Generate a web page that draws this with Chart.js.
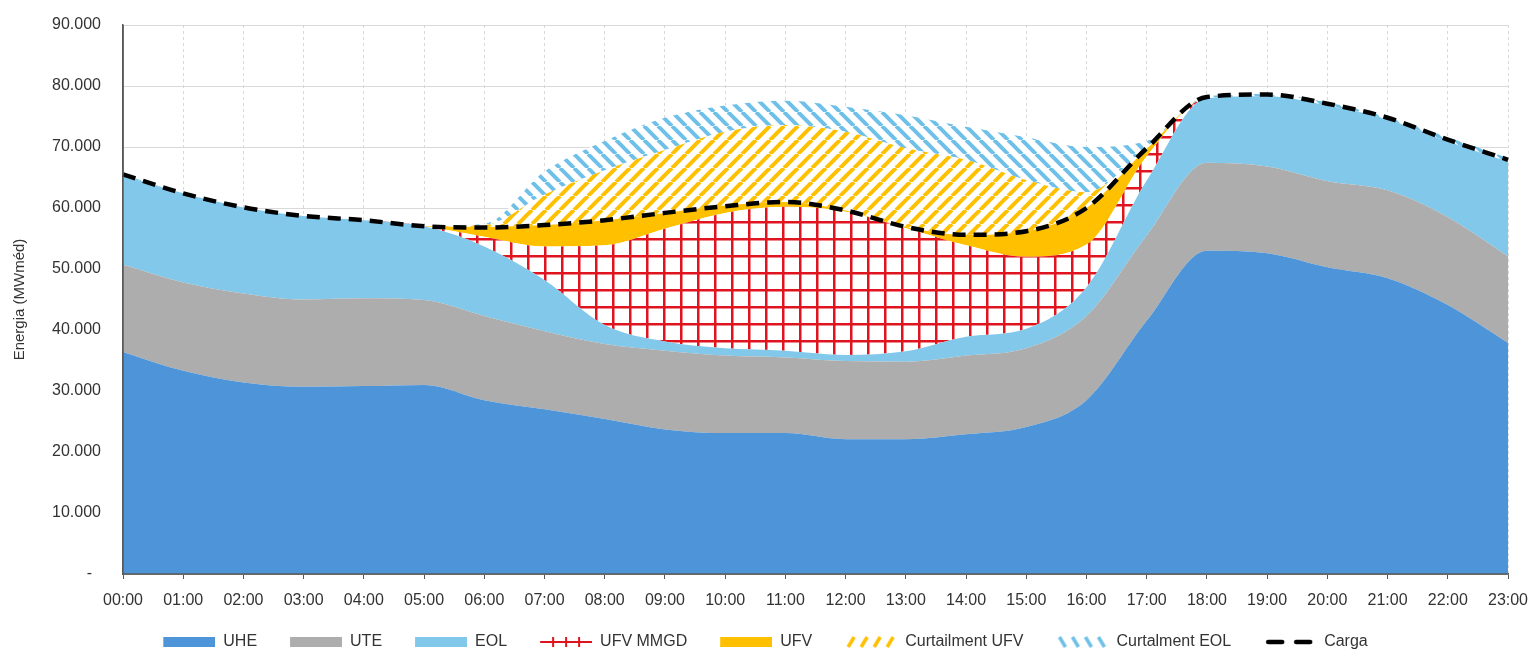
<!DOCTYPE html>
<html lang="pt-BR">
<head>
<meta charset="utf-8">
<script src="https://cdn.jsdelivr.net/npm/chart.js@4.4.1/dist/chart.umd.min.js"></script>
<style>
  html, body { margin: 0; padding: 0; background: #ffffff; overflow: hidden; }
</style>
</head>
<body>
<canvas id="energiaChart" width="1530" height="653"></canvas>
<script>
const horas = ['00:00', '01:00', '02:00', '03:00', '04:00', '05:00', '06:00', '07:00',
  '08:00', '09:00', '10:00', '11:00', '12:00', '13:00', '14:00', '15:00',
  '16:00', '17:00', '18:00', '19:00', '20:00', '21:00', '22:00', '23:00'];

// MWméd por hora
const uhe = [36400, 33300, 31400, 30700, 30800, 31000, 28500, 27000, 25400, 23700, 23100, 23100,
  22100, 22100, 22900, 24100, 28500, 41500, 53000, 52600, 50300, 48500, 44100, 37900];
const ute = [14300, 14500, 14600, 14300, 14400, 13900, 13800, 12800, 12300, 12900, 12700, 12400,
  12800, 12700, 12900, 12900, 13800, 14000, 14400, 14200, 14100, 14400, 14400, 14200];
const eol = [14600, 14600, 14100, 13700, 12800, 12100, 11400, 8400, 3100, 1500, 1200, 1100,
  1000, 1700, 3100, 3200, 4700, 9000, 10600, 11500, 12400, 11600, 12400, 15500];
const ufvMmgd = [0, 0, 0, 0, 0, 0, 1600, 5500, 13100, 18500, 22200, 23600,
  23500, 20200, 15000, 11800, 7000, 4000, 0, 0, 0, 0, 0, 0];
const ufv = [0, 0, 0, 0, 0, 0, 1600, 3500, 4100, 2600, 1200, 800,
  200, 200, 1700, 4200, 6000, 1200, 0, 0, 0, 0, 0, 0];
const curtUfv = [0, 0, 0, 0, 0, 0, 300, 5000, 8200, 10300, 12100, 12600,
  12900, 12900, 12300, 8400, 2600, 300, 0, 0, 0, 0, 0, 0];
const curtEol = [200, 0, 0, 0, 0, 0, 200, 3800, 4800, 5300, 4300, 4000,
  4100, 5400, 5400, 7000, 7400, 1000, 300, 400, 500, 500, 700, 600];
const carga = [65500, 62400, 60100, 58700, 58000, 57000, 56800, 57200, 58000, 59200, 60300, 61000,
  59600, 56900, 55600, 56200, 60000, 69800, 78200, 78600, 77100, 74800, 71200, 67900];

const corTexto = '#333333'
const corEixo = '#595959'
const azulUhe = '#4d94d8'
const cinzaUte = '#adadad'
const azulEol = '#82c8ea'
const amareloUfv = '#ffc000'
const vermelho = '#e0141e'

Chart.defaults.font.family = "'Liberation Sans', Arial, sans-serif"

function novoCanvas(w, h) {
  const c = document.createElement('canvas')
  c.width = w
  c.height = h
  return c
}

// padrões de preenchimento
function padrao(w, h, desenha) {
  const c = novoCanvas(w, h)
  const g = c.getContext('2d')
  g.fillStyle = '#ffffff'
  g.fillRect(0, 0, w, h)
  desenha(g, w, h)
  return g.createPattern(c, 'repeat')
}

const gradeVermelha = padrao(17, 17, (g, w, h) => {
  g.fillStyle = vermelho
  g.fillRect(0, 0, 2.5, h)
  g.fillRect(0, 0, w, 2.5)
})

function hachura(cor, invertida) {
  return padrao(14, 14, (g, s) => {
    g.strokeStyle = cor
    g.lineWidth = 4
    for (let k = -1; k <= 1; k++) {
      g.beginPath()
      if (invertida) {
        g.moveTo(k * s, 0)
        g.lineTo(k * s + s, s)
      } else {
        g.moveTo(k * s, s)
        g.lineTo(k * s + s, 0)
      }
      g.stroke()
    }
  })
}

const hachuraUfv = hachura(amareloUfv, false)
const hachuraEol = hachura('#6fc0e8', true)

// marcadores da legenda (margem transparente à esquerda = espaço entre itens)
const margem = 23
function marcador(desenha) {
  const c = novoCanvas(52 + margem, 14)
  const g = c.getContext('2d')
  g.translate(margem, 0)
  desenha(g)
  return c
}

const caixa = cor => marcador(g => { g.fillStyle = cor; g.fillRect(0, 2, 52, 10) })

const marcadores = [
  caixa(azulUhe),
  caixa(cinzaUte),
  caixa(azulEol),
  marcador(g => {
    g.fillStyle = vermelho
    g.fillRect(0, 6, 52, 2)
    ;[13, 26, 39].forEach(x => g.fillRect(x - 1, 2, 2, 10))
  }),
  caixa(amareloUfv),
  marcador(g => {
    g.strokeStyle = amareloUfv
    g.lineWidth = 3.5
    ;[6, 19, 32, 45].forEach(x => {
      g.beginPath(); g.moveTo(x - 3, 12); g.lineTo(x + 3, 2); g.stroke()
    })
  }),
  marcador(g => {
    g.strokeStyle = '#6fc0e8'
    g.lineWidth = 3.5
    ;[6, 19, 32, 45].forEach(x => {
      g.beginPath(); g.moveTo(x - 3, 2); g.lineTo(x + 3, 12); g.stroke()
    })
  }),
  marcador(g => {
    g.strokeStyle = '#000000'
    g.lineWidth = 4.5
    g.lineCap = 'round'
    g.beginPath(); g.moveTo(4, 7); g.lineTo(18, 7); g.stroke()
    g.beginPath(); g.moveTo(32, 7); g.lineTo(46, 7); g.stroke()
  })
]

function area(label, data, cor, preenchimento) {
  return {
    label: label,
    data: data,
    backgroundColor: cor,
    borderWidth: 0,
    pointRadius: 0,
    fill: preenchimento,
    stack: 'geracao',
    cubicInterpolationMode: 'monotone'
  }
}

// linhas dos eixos por cima das áreas
const eixos = {
  id: 'eixos',
  afterDatasetsDraw(chart) {
    const { ctx, chartArea: a } = chart
    ctx.save()
    ctx.strokeStyle = corEixo
    ctx.lineWidth = 1.5
    ctx.beginPath()
    ctx.moveTo(a.left, a.top)
    ctx.lineTo(a.left, a.bottom)
    ctx.lineTo(a.right, a.bottom)
    ctx.stroke()
    ctx.restore()
  }
}

// desce a legenda até a base da figura
const legendaBaixa = {
  id: 'legendaBaixa',
  afterLayout(chart) {
    chart.legend.top += 7
    chart.legend.bottom += 7
  }
}

const ctx = document.getElementById('energiaChart').getContext('2d')
new Chart(ctx, {
  type: 'line',
  data: {
    labels: horas,
    datasets: [
      area('UHE', uhe, azulUhe, 'origin'),
      area('UTE', ute, cinzaUte, '-1'),
      area('EOL', eol, azulEol, '-1'),
      area('UFV MMGD', ufvMmgd, gradeVermelha, '-1'),
      area('UFV', ufv, amareloUfv, '-1'),
      area('Curtailment UFV', curtUfv, hachuraUfv, '-1'),
      area('Curtalment EOL', curtEol, hachuraEol, '-1'),
      {
        label: 'Carga',
        data: carga,
        borderColor: '#000000',
        borderWidth: 4.5,
        borderDash: [13, 8],
        pointRadius: 0,
        fill: false,
        stack: 'carga',
        order: -1,
        cubicInterpolationMode: 'monotone'
      }
    ]
  },
  options: {
    responsive: false,
    animation: false,
    layout: {
      padding: { top: 25, right: 22, left: 0, bottom: 0 }
    },
    scales: {
      x: {
        offset: false,
        grid: {
          color: '#d9d9d9',
          tickColor: corEixo,
          tickLength: 5
        },
        border: {
          color: corEixo,
          width: 1.5,
          dash: [3, 3]
        },
        ticks: {
          color: corTexto,
          font: { size: 16 },
          padding: 12,
          autoSkip: false,
          maxRotation: 0
        },
        afterFit: scale => {
          scale.height = 43
          scale.paddingLeft = 0
          scale.paddingRight = 0
        }
      },
      y: {
        stacked: true,
        min: 0,
        max: 90000,
        grid: {
          color: '#d9d9d9',
          drawTicks: false
        },
        border: {
          color: corEixo,
          width: 1.5
        },
        ticks: {
          stepSize: 10000,
          color: corTexto,
          font: { size: 16 },
          padding: 22,
          callback: v => v === 0 ? '-  ' : (v / 1000) + '.000'
        },
        title: {
          display: true,
          text: 'Energia (MWméd)',
          color: corTexto,
          font: { size: 15 },
          padding: { top: 11, bottom: 0 }
        },
        afterFit: scale => {
          scale.width = 123
          scale.paddingTop = 0
          scale.paddingBottom = 0
        }
      }
    },
    plugins: {
      legend: {
        position: 'bottom',
        labels: {
          usePointStyle: true,
          pointStyleWidth: 52 + margem,
          color: corTexto,
          font: { size: 16 },
          padding: 10,
          generateLabels: chart => chart.data.datasets.map((ds, i) => ({
            text: ds.label,
            pointStyle: marcadores[i],
            fontColor: corTexto,
            fillStyle: 'transparent',
            strokeStyle: 'transparent',
            lineWidth: 0,
            hidden: !chart.isDatasetVisible(i),
            datasetIndex: i
          }))
        }
      },
      tooltip: { enabled: false }
    }
  },
  plugins: [eixos, legendaBaixa]
})
</script>
</body>
</html>
